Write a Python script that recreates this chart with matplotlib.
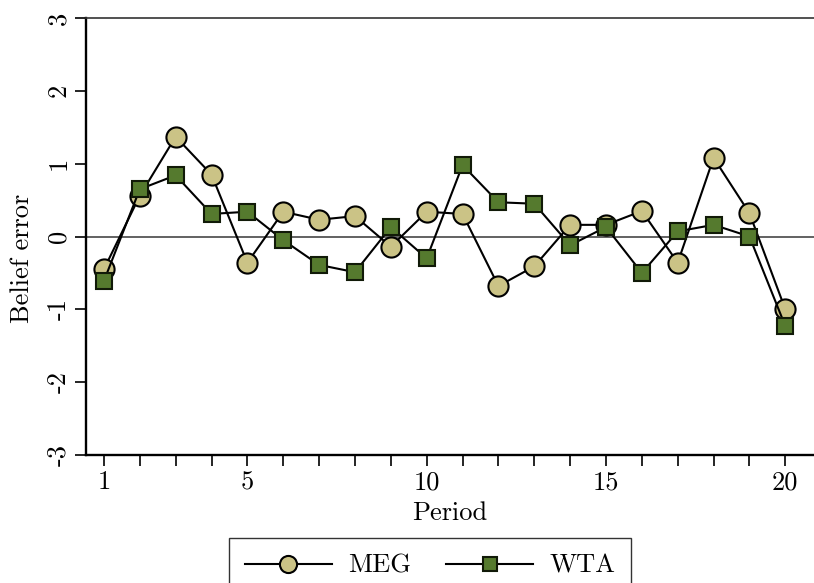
import matplotlib
matplotlib.use('Agg')
import numpy as np
import matplotlib.pyplot as plt

plt.rcParams['font.family'] = ['cmr10', 'DejaVu Serif']
plt.rcParams['axes.formatter.use_mathtext'] = True

periods = list(range(1, 21))
meg = [-0.45, 0.56, 1.37, 0.85, -0.36, 0.34, 0.23, 0.28, -0.14, 0.34,
       0.31, -0.68, -0.41, 0.16, 0.16, 0.35, -0.36, 1.08, 0.32, -1.00]
wta = [-0.61, 0.65, 0.84, 0.31, 0.34, -0.05, -0.39, -0.49, 0.13, -0.30,
       0.98, 0.47, 0.45, -0.12, 0.13, -0.50, 0.07, 0.16, 0.00, -1.23]
xtick_vals = [1, 5, 10, 15, 20]
ytick_vals = [-3, -2, -1, 0, 1, 2, 3]

fig = plt.figure(figsize=(8.14, 5.83), dpi=100)
ax = fig.add_axes([86/814, 1 - 455/583, 1 - 86/814, (455 - 18)/583])

ax.axhline(0, color='#555555', lw=1.3, zorder=1)
ax.plot(periods, meg, color='black', lw=1.5, marker='o', ms=14.5,
        mfc='#CBC386', mec='black', mew=1.5, label='MEG', zorder=3)
ax.plot(periods, wta, color='black', lw=1.5, marker='s', ms=12,
        mfc='#557A2E', mec='#111a08', mew=1.5, label='WTA', zorder=3)

ax.set_xlim(0.5, 20.8)
ax.set_ylim(-3, 3)
ax.set_xticks(periods, minor=True)
ax.set_xticks(xtick_vals)
ax.set_xticklabels([str(v) for v in xtick_vals])
ax.set_yticks(ytick_vals)
ax.set_yticklabels([str(v) for v in ytick_vals], rotation=90, va='center')
ax.tick_params(axis='both', which='both', direction='out', length=8, width=1.2,
               labelsize=19, color='black')
ax.tick_params(axis='x', pad=3)
ax.tick_params(axis='y', pad=3)

ax.spines['right'].set_visible(False)
ax.spines['top'].set_color('#333333')
ax.spines['top'].set_linewidth(1.2)
ax.spines['left'].set_linewidth(1.7)
ax.spines['bottom'].set_linewidth(1.7)

ax.set_xlabel('Period', fontsize=19, labelpad=5)
ax.set_ylabel('Belief error', fontsize=19)
ax.yaxis.set_label_coords(-0.071, 0.45)

leg = fig.legend(loc='upper center', bbox_to_anchor=(430/814, 1 - 525/583), ncol=2,
                 fontsize=19, frameon=True, fancybox=False, edgecolor='black',
                 handlelength=3.3, handletextpad=0.6, columnspacing=1.35,
                 borderpad=0.6, markerscale=0.85)
leg.get_frame().set_linewidth(1.0)

fig.savefig('out.png', dpi=100)
